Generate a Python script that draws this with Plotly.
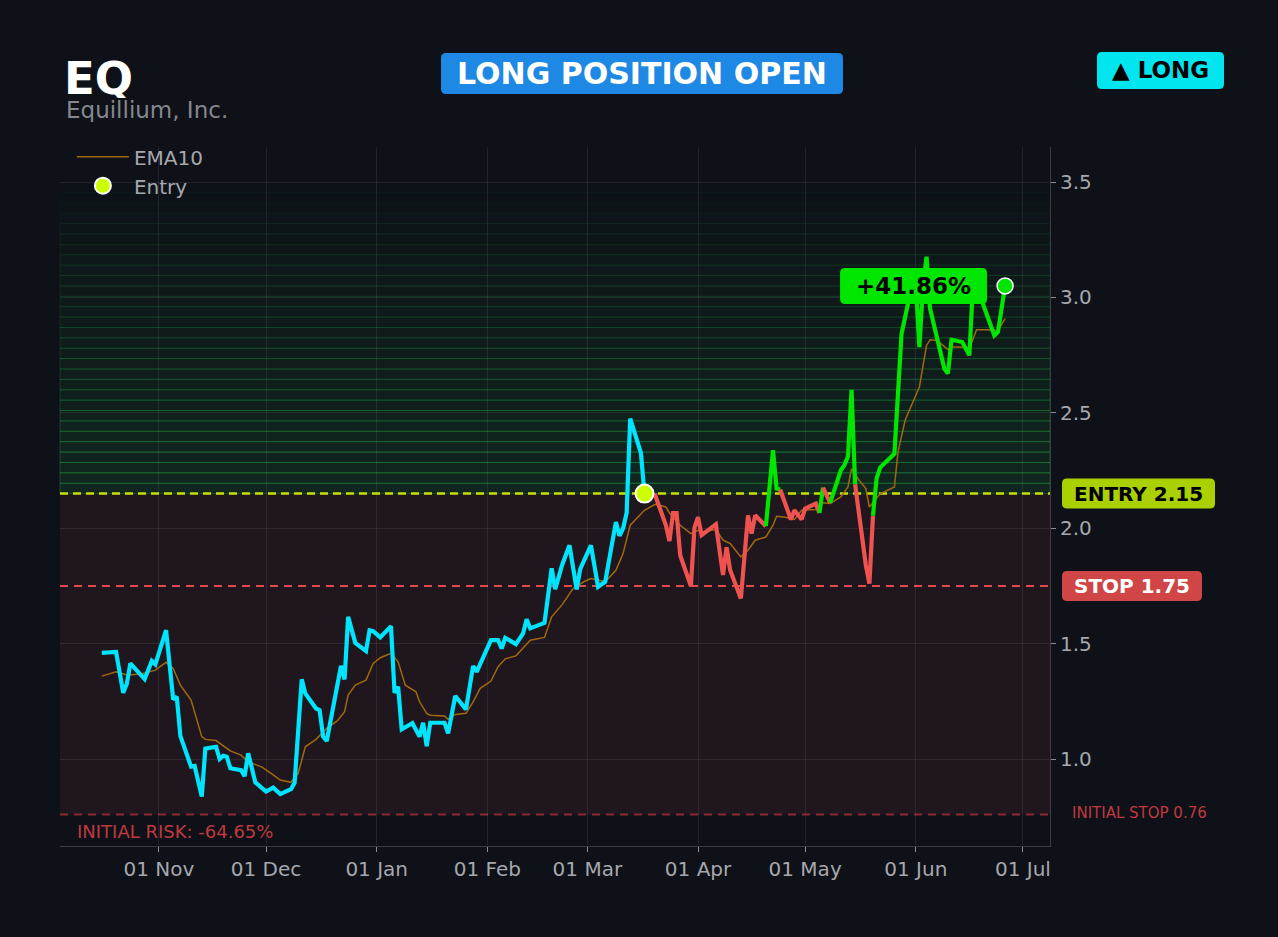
import plotly.graph_objects as go

# values
ticker = "EQ"
company = "Equillium, Inc."
entry_date = "2025-03-17"
entry_price = 2.15
stop_price = 1.75
initial_stop = 0.76

price_dates = [
    "2024-10-16", "2024-10-20", "2024-10-22", "2024-10-23", "2024-10-24", "2024-10-28",
    "2024-10-30", "2024-10-31", "2024-11-03", "2024-11-05", "2024-11-06", "2024-11-07",
    "2024-11-10", "2024-11-11", "2024-11-13", "2024-11-14", "2024-11-17", "2024-11-18",
    "2024-11-19", "2024-11-20", "2024-11-21", "2024-11-24", "2024-11-25", "2024-11-26",
    "2024-11-28", "2024-12-01", "2024-12-03", "2024-12-05", "2024-12-08", "2024-12-09",
    "2024-12-11", "2024-12-12", "2024-12-15", "2024-12-16", "2024-12-17", "2024-12-18",
    "2024-12-22", "2024-12-23", "2024-12-24", "2024-12-26", "2024-12-29", "2024-12-30",
    "2024-12-31", "2025-01-02", "2025-01-05", "2025-01-06", "2025-01-07", "2025-01-08",
    "2025-01-11", "2025-01-13", "2025-01-14", "2025-01-15", "2025-01-16", "2025-01-20",
    "2025-01-21", "2025-01-23", "2025-01-26", "2025-01-28", "2025-01-29", "2025-02-02",
    "2025-02-04", "2025-02-05", "2025-02-06", "2025-02-09", "2025-02-11", "2025-02-12",
    "2025-02-13", "2025-02-17", "2025-02-19", "2025-02-20", "2025-02-22", "2025-02-24",
    "2025-02-26", "2025-02-27", "2025-03-02", "2025-03-04", "2025-03-06", "2025-03-09",
    "2025-03-10", "2025-03-11", "2025-03-12", "2025-03-13", "2025-03-16", "2025-03-17",
    "2025-03-20", "2025-03-23", "2025-03-24", "2025-03-25", "2025-03-26", "2025-03-27",
    "2025-03-30", "2025-03-31", "2025-04-01", "2025-04-02", "2025-04-06", "2025-04-08",
    "2025-04-09", "2025-04-10", "2025-04-13", "2025-04-15", "2025-04-16", "2025-04-17",
    "2025-04-20", "2025-04-22", "2025-04-23", "2025-04-24", "2025-04-27", "2025-04-28",
    "2025-04-30", "2025-05-01", "2025-05-04", "2025-05-05", "2025-05-06", "2025-05-08",
    "2025-05-11", "2025-05-12", "2025-05-13", "2025-05-14", "2025-05-15", "2025-05-18",
    "2025-05-19", "2025-05-20", "2025-05-21", "2025-05-22", "2025-05-26", "2025-05-28",
    "2025-05-30", "2025-06-01", "2025-06-02", "2025-06-03", "2025-06-04", "2025-06-05",
    "2025-06-09", "2025-06-10", "2025-06-11", "2025-06-14", "2025-06-16", "2025-06-17",
    "2025-06-18", "2025-06-23", "2025-06-24", "2025-06-26",
]
price_values = [
    1.46, 1.464, 1.287, 1.325, 1.414, 1.346,
    1.425, 1.41, 1.558, 1.258, 1.27, 1.10,
    0.967, 0.97, 0.837, 1.045, 1.053, 1.0,
    1.014, 1.01, 0.96, 0.952, 0.926, 1.025,
    0.899, 0.859, 0.876, 0.848, 0.869, 0.897,
    1.345, 1.284, 1.219, 1.212, 1.097, 1.078,
    1.404, 1.345, 1.616, 1.503, 1.468, 1.558,
    1.554, 1.527, 1.576, 1.287, 1.313, 1.129,
    1.155, 1.097, 1.157, 1.056, 1.157, 1.157,
    1.111, 1.273, 1.215, 1.403, 1.378, 1.515,
    1.515, 1.479, 1.525, 1.498, 1.544, 1.606,
    1.566, 1.59, 1.826, 1.736, 1.844, 1.926,
    1.735, 1.823, 1.926, 1.746, 1.768, 2.027,
    1.967, 1.999, 2.066, 2.475, 2.326, 2.15,
    2.143, 2.013, 1.945, 2.066, 2.066, 1.883,
    1.749, 2.003, 2.048, 1.97, 2.017, 1.797,
    1.917, 1.818, 1.696, 2.056, 1.977, 2.056,
    2.009, 2.338, 2.172, 2.168, 2.038, 2.078,
    2.038, 2.085, 2.107, 2.066, 2.176, 2.11,
    2.251, 2.273, 2.312, 2.60, 2.19, 1.84,
    1.76, 2.054, 2.215, 2.263, 2.323, 2.843,
    2.987, 3.052, 2.785, 3.045, 3.177, 2.951,
    2.691, 2.67, 2.817, 2.807, 2.749, 3.052,
    3.05, 2.835, 2.85, 3.05,
]

ema_dates = [
    "2024-10-16", "2024-10-20", "2024-10-23", "2024-10-27", "2024-10-31", "2024-11-03",
    "2024-11-05", "2024-11-07", "2024-11-10", "2024-11-13", "2024-11-14", "2024-11-17",
    "2024-11-21", "2024-11-24", "2024-11-26", "2024-11-30", "2024-12-03", "2024-12-05",
    "2024-12-08", "2024-12-10", "2024-12-12", "2024-12-15", "2024-12-18", "2024-12-21",
    "2024-12-23", "2024-12-24", "2024-12-26", "2024-12-29", "2024-12-31", "2025-01-02",
    "2025-01-05", "2025-01-07", "2025-01-09", "2025-01-12", "2025-01-13", "2025-01-15",
    "2025-01-16", "2025-01-20", "2025-01-21", "2025-01-23", "2025-01-26", "2025-01-28",
    "2025-01-30", "2025-02-02", "2025-02-04", "2025-02-06", "2025-02-09", "2025-02-13",
    "2025-02-17", "2025-02-19", "2025-02-22", "2025-02-24", "2025-02-25", "2025-02-28",
    "2025-03-02", "2025-03-06", "2025-03-09", "2025-03-11", "2025-03-13", "2025-03-17",
    "2025-03-20", "2025-03-23", "2025-03-24", "2025-03-27", "2025-03-30", "2025-04-01",
    "2025-04-02", "2025-04-06", "2025-04-08", "2025-04-10", "2025-04-13", "2025-04-15",
    "2025-04-17", "2025-04-20", "2025-04-22", "2025-04-23", "2025-04-25", "2025-04-28",
    "2025-04-30", "2025-05-04", "2025-05-06", "2025-05-08", "2025-05-11", "2025-05-13",
    "2025-05-14", "2025-05-16", "2025-05-18", "2025-05-19", "2025-05-22", "2025-05-26",
    "2025-05-27", "2025-05-29", "2025-06-02", "2025-06-04", "2025-06-05", "2025-06-07",
    "2025-06-10", "2025-06-11", "2025-06-15", "2025-06-16", "2025-06-18", "2025-06-21",
    "2025-06-24", "2025-06-26",
]
ema_values = [
    1.359, 1.378, 1.364, 1.368, 1.385, 1.419,
    1.392, 1.32, 1.255, 1.097, 1.085, 1.08,
    1.035, 1.017, 0.988, 0.964, 0.931, 0.909,
    0.899, 0.938, 1.053, 1.085, 1.133, 1.166,
    1.205, 1.277, 1.32, 1.342, 1.414, 1.439,
    1.458, 1.421, 1.32, 1.291, 1.248, 1.198,
    1.19, 1.186, 1.172, 1.193, 1.198, 1.248,
    1.306, 1.338, 1.40, 1.434, 1.447, 1.515,
    1.527, 1.616, 1.67, 1.717, 1.739, 1.768,
    1.782, 1.768, 1.818, 1.89, 2.013, 2.078,
    2.104, 2.092, 2.066, 2.013, 1.977, 1.991,
    1.984, 1.994, 1.948, 1.934, 1.876, 1.905,
    1.948, 1.962, 2.013, 2.052, 2.049, 2.038,
    2.078, 2.081, 2.11, 2.107, 2.136, 2.179,
    2.258, 2.21, 2.172, 2.092, 2.149, 2.179,
    2.33, 2.468, 2.612, 2.792, 2.817, 2.814,
    2.774, 2.785, 2.785, 2.778, 2.86, 2.86,
    2.857, 2.908,
]

y_ticks = [1.0, 1.5, 2.0, 2.5, 3.0, 3.5]
x_range = ["2024-10-04 07:00", "2025-07-08 14:00"]
y_range = [0.623, 3.652]
zone_top = 3.5

# colours
BG = "#0e1118"
CYAN = "#00e5ff"
GREEN = "#00e600"
RED = "#ef5350"
EMA_COLOR = "#a0690f"
ENTRY_COLOR = "#ccff00"
TEXT_GREY = "#a6a8ae"

W, H = 1278, 937
ML, MR, MT, MB = 60, 228, 147, 91


def px_x(px):
    return (px - ML) / (W - ML - MR)


def px_y(py):
    return (H - MB - py) / (H - MT - MB)


def rounded(x0, x1, y0, y1, r):
    return (f"M{x0 + r},{y0} L{x1 - r},{y0} Q{x1},{y0} {x1},{y0 + r} "
            f"L{x1},{y1 - r} Q{x1},{y1} {x1 - r},{y1} L{x0 + r},{y1} "
            f"Q{x0},{y1} {x0},{y1 - r} L{x0},{y0 + r} Q{x0},{y0} {x0 + r},{y0} Z")


def badge(xref, yref, xa, ya, x0, x1, h, color, r=5):
    return dict(type="path", xref=xref, yref=yref, xsizemode="pixel", ysizemode="pixel",
                xanchor=xa, yanchor=ya, path=rounded(x0, x1, -h / 2, h / 2, r),
                fillcolor=color, line=dict(width=0), layer="above")


def label(text, x, y, size, color, xref="paper", yref="paper", xanchor="center",
          yanchor="middle", xshift=0, yshift=0, height=None):
    ann = dict(text=text, x=x, y=y, xref=xref, yref=yref, xanchor=xanchor, yanchor=yanchor,
               xshift=xshift, yshift=yshift, showarrow=False,
               font=dict(size=size, color=color, family="DejaVu Sans"))
    if height is not None:
        ann["height"] = height
        ann["valign"] = "middle"
    return ann


gain = (price_values[-1] / entry_price - 1) * 100
risk = (initial_stop / entry_price - 1) * 100

fig = go.Figure()

fig.add_trace(go.Scatter(x=ema_dates, y=ema_values, mode="lines", name="EMA10",
                         line=dict(color=EMA_COLOR, width=1.5), hoverinfo="skip"))

# price: cyan until entry, then green above / red below the entry level
i_entry = price_dates.index(entry_date)
runs = [(CYAN, list(range(0, i_entry + 1)))]
for k in range(i_entry, len(price_values) - 1):
    color = GREEN if price_values[k + 1] >= entry_price else RED
    if runs[-1][0] == color and runs[-1][1][-1] == k:
        runs[-1][1].append(k + 1)
    else:
        runs.append((color, [k, k + 1]))
for color, idx in runs:
    fig.add_trace(go.Scatter(x=[price_dates[i] for i in idx], y=[price_values[i] for i in idx],
                             mode="lines", line=dict(color=color, width=4.2),
                             showlegend=False, hoverinfo="skip"))

fig.add_trace(go.Scatter(x=[entry_date], y=[entry_price], mode="markers", name="Entry",
                         marker=dict(color=ENTRY_COLOR, size=18, line=dict(color="white", width=2))))
fig.add_trace(go.Scatter(x=[price_dates[-1]], y=[price_values[-1]], mode="markers",
                         showlegend=False,
                         marker=dict(color=GREEN, size=16, line=dict(color="white", width=1.5))))

shapes = []
# risk zone between initial stop and entry
shapes.append(dict(type="rect", xref="paper", yref="y", x0=0, x1=1, y0=initial_stop, y1=entry_price,
                   fillcolor="#20161e", line=dict(width=0), layer="below"))
# profit zone: stacked faint green bands fading upwards
n_bands = 30
band_h = (zone_top - entry_price) / n_bands
for i in range(n_bands):
    a = 0.11 * (1 - i / n_bands) + 0.005
    shapes.append(dict(type="rect", xref="paper", yref="y", x0=0, x1=1,
                       y0=entry_price + i * band_h, y1=entry_price + (i + 1) * band_h,
                       fillcolor=f"rgba(40,200,80,{a:.3f})",
                       line=dict(color=f"rgba(40,200,80,{min(a * 2.6, 1):.3f})", width=1),
                       layer="below"))
shapes.append(dict(type="line", xref="paper", yref="y", x0=0, x1=1, y0=entry_price, y1=entry_price,
                   line=dict(color="#c8e000", width=2.5, dash="8px,5px"), layer="between"))
shapes.append(dict(type="line", xref="paper", yref="y", x0=0, x1=1, y0=stop_price, y1=stop_price,
                   line=dict(color="#e04a4a", width=2, dash="8px,6px"), layer="between"))
shapes.append(dict(type="line", xref="paper", yref="y", x0=0, x1=1, y0=initial_stop, y1=initial_stop,
                   line=dict(color="#8a2a32", width=2, dash="8px,6px"), layer="between"))

# badges
shapes.append(badge("paper", "paper", px_x(642), px_y(73.5), -201, 201, 41, "#1e88e5"))
shapes.append(badge("paper", "paper", px_x(1160.5), px_y(70.5), -63.5, 63.5, 37, "#00e5ee"))
shapes.append(badge("paper", "y", 1, entry_price, 12, 165, 30, "#aad000"))
shapes.append(badge("paper", "y", 1, stop_price, 12, 152, 30, "#d04545"))
shapes.append(badge("x", "y", price_dates[-1], price_values[-1], -165, -18, 36, GREEN))

annotations = [
    label(f"<b>{ticker}</b>", px_x(62), px_y(78), 45, "white", xanchor="left", height=40),
    label(company, px_x(64), px_y(110), 23, "#85878d", xanchor="left", height=24),
    label("<b>LONG POSITION OPEN</b>", px_x(642), px_y(73.5), 30, "white"),
    label("<b>▲ LONG</b>", px_x(1160.5), px_y(70.5), 23, "black"),
    label(f"<b>ENTRY {entry_price:.2f}</b>", 1, entry_price, 20, "black", yref="y", xshift=88.5),
    label(f"<b>STOP {stop_price:.2f}</b>", 1, stop_price, 20, "white", yref="y", xshift=82),
    label(f"INITIAL STOP {initial_stop:.2f}", 1, initial_stop, 15, "#c0393f", yref="y",
          xanchor="left", xshift=20, yshift=1),
    label(f"INITIAL RISK: {risk:.2f}%", 0, initial_stop, 18, "#c0393f", yref="y",
          xanchor="left", yanchor="top", xshift=15, yshift=-5),
    label(f"<b>{gain:+.2f}%</b>", price_dates[-1], price_values[-1], 23, "black",
          xref="x", yref="y", xshift=-91.5),
]

fig.update_layout(
    width=W, height=H,
    margin=dict(l=ML, r=MR, t=MT, b=MB, pad=0),
    paper_bgcolor=BG, plot_bgcolor=BG,
    font=dict(family="DejaVu Sans", color=TEXT_GREY, size=20),
    shapes=shapes, annotations=annotations,
    showlegend=True,
    legend=dict(x=0.012, y=1.014, xanchor="left", yanchor="top", bgcolor="rgba(0,0,0,0)",
                itemwidth=52, tracegroupgap=0,
                font=dict(size=20, color=TEXT_GREY)),
    xaxis=dict(range=x_range, type="date", tickformat="%d %b", dtick="M1", tick0="2024-11-01",
               showgrid=True, gridcolor="rgba(255,255,255,0.08)", zeroline=False,
               showline=True, linecolor="#3a3d44", ticks="outside", ticklen=5,
               tickcolor="#8a8d94", tickfont=dict(size=20, color=TEXT_GREY)),
    yaxis=dict(range=y_range, side="right", tickvals=y_ticks, tickformat=".1f",
               showgrid=True, gridcolor="rgba(255,255,255,0.08)", zeroline=False,
               showline=True, linecolor="#3a3d44", ticks="outside", ticklen=5,
               tickcolor="#8a8d94", tickfont=dict(size=20, color=TEXT_GREY)),
)

fig.write_html("out.html", config={"displayModeBar": False},
               post_script="document.body.style.margin='0';"
                           "document.body.style.background='#0e1118';")
